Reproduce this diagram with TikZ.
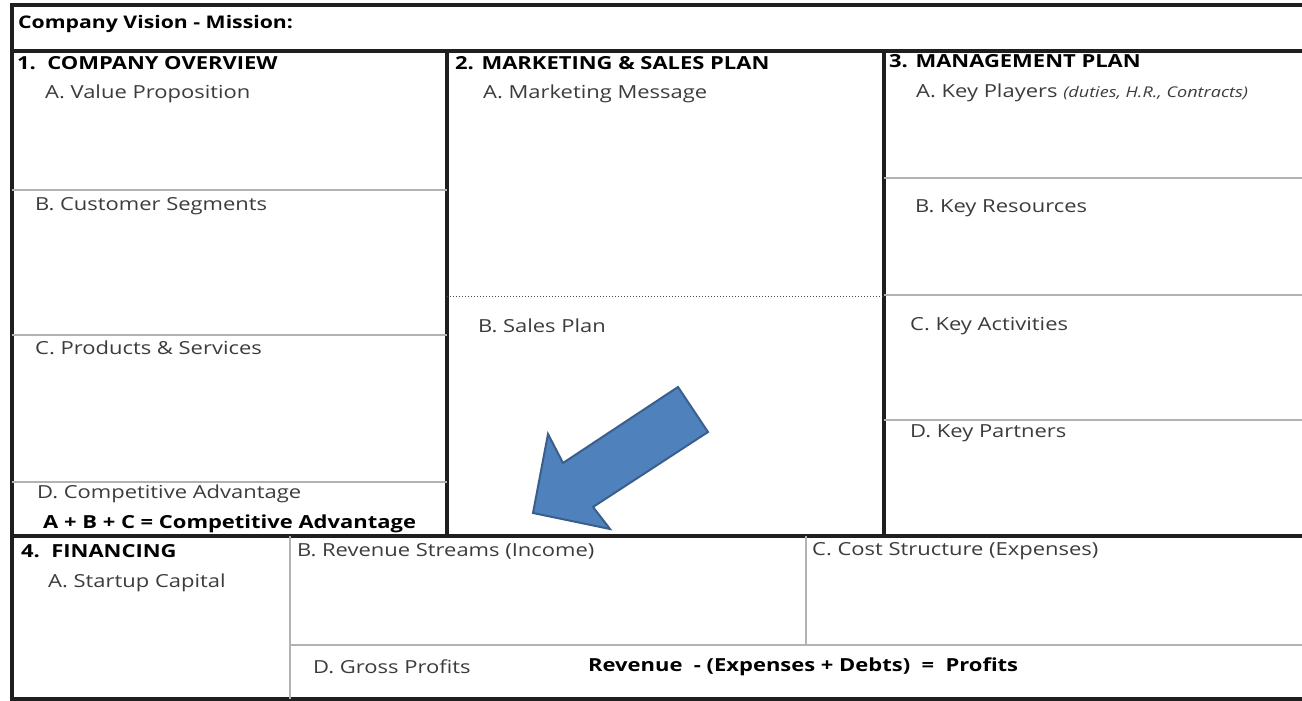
\documentclass[tikz,border=0pt]{standalone}
\usepackage{fontspec}
\setmainfont{Open Sans}[FakeStretch=1.22]
\definecolor{arrowblue}{HTML}{4F81BD}
\definecolor{arrowedge}{HTML}{3A5F8C}
\definecolor{textgray}{HTML}{3C3C3C}

\begin{document}
\begin{tikzpicture}[x=1pt,y=-1pt]
    \tikzstyle{every node}=[anchor=base west,inner sep=0pt,text=textgray,font=\fontsize{18}{20}\selectfont];
    \tikzstyle{head}=[text=black,font=\fontsize{18}{20}\selectfont\bfseries];
    \tikzstyle{heavy}=[line width=3.6pt,draw=black!88];
    \tikzstyle{thin}=[line width=1.3pt,draw=black!30];
    \useasboundingbox (0,0) rectangle (1302,701);
    \fill[white] (0,0) rectangle (1302,701);

    % frame and the three top columns
    \draw[heavy] (1302,5) -- (12,5) -- (12,699) -- (1302,699);
    \draw[heavy] (12,51) -- (1302,51);
    \draw[heavy] (12,536) -- (1302,536);
    \draw[heavy] (447,51) -- (447,536);
    \draw[heavy] (884,51) -- (884,536);

    % rows inside the columns
    \draw[thin] (12,190) -- (447,190);
    \draw[thin] (12,335) -- (447,335);
    \draw[thin] (12,482) -- (447,482);
    \draw[line width=1pt,dotted,draw=black!70] (447,296) -- (884,296);
    \draw[thin] (884,178) -- (1302,178);
    \draw[thin] (884,295) -- (1302,295);
    \draw[thin] (884,420) -- (1302,420);

    % financing block
    \draw[thin] (290,536) -- (290,699);
    \draw[thin] (806,536) -- (806,645);
    \draw[thin] (290,645) -- (1302,645);

    \node at (18, 29) (vision) [head,font=\fontsize{17.4}{20}\selectfont\bfseries] {Company Vision - Mission:};

    \node at (17, 70) (overview) [head] {1.\ \ COMPANY OVERVIEW};
    \node at (45, 99) (value) {A. Value Proposition};
    \node at (35, 210) (segments) {B. Customer Segments};
    \node at (35, 354) (products) {C. Products \& Services};
    \node at (37, 498) (advantage) {D. Competitive Advantage};
    \node at (43, 528) (sum) [head] {A + B + C = Competitive Advantage};

    \node at (455, 70) (marketing) [head] {2. MARKETING \& SALES PLAN};
    \node at (483, 99) (message) {A. Marketing Message};
    \node at (478, 332) (sales) {B. Sales Plan};

    \node at (889, 68) (management) [head] {3. MANAGEMENT PLAN};
    \node at (916, 97) (players) {A. Key Players \textit{\fontsize{14.8}{16}\selectfont(duties, H.R., Contracts)}};
    \node at (915, 212) (resources) {B. Key Resources};
    \node at (910, 330) (activities) {C. Key Activities};
    \node at (910, 437) (partners) {D. Key Partners};

    \node at (21, 557) (financing) [head] {4.\ \ FINANCING};
    \node at (48, 587) (capital) {A. Startup Capital};
    \node at (297, 556) (revenue) {B. Revenue Streams (Income)};
    \node at (812, 555) (cost) {C. Cost Structure (Expenses)};
    \node at (313, 673) (gross) {D. Gross Profits};
    \node at (588, 671) (profits) [head] {Revenue\ \ - (Expenses + Debts)\ \ =\ \ Profits};

    % big pointer in the sales plan box
    \draw[line width=2pt,draw=arrowedge,fill=arrowblue,line join=miter]
        (678,387) -- (708,432) -- (593,507) -- (610,529) -- (533,513)
        -- (548,434) -- (563,463) -- cycle;
\end{tikzpicture}
\end{document}
